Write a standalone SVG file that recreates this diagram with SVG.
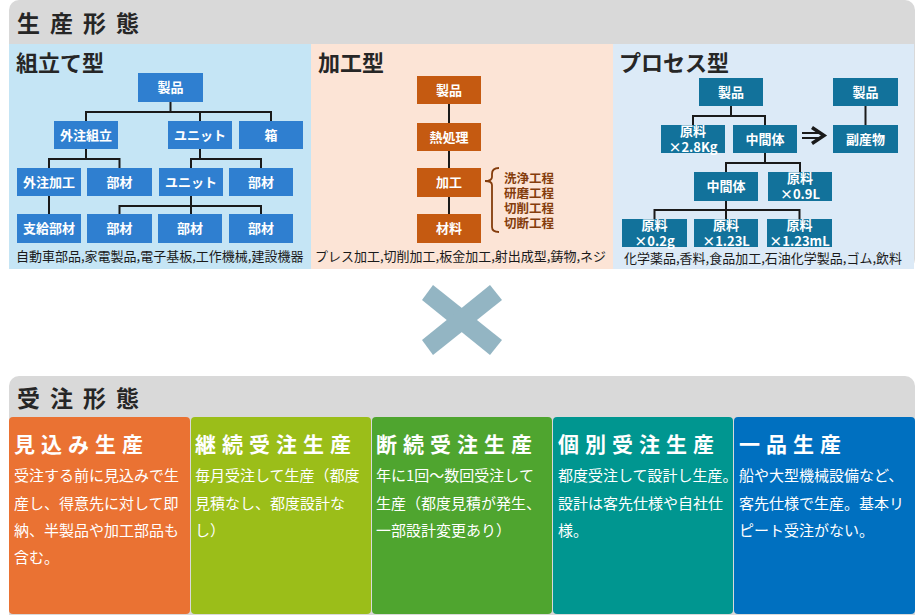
<svg xmlns="http://www.w3.org/2000/svg" width="916" height="615" viewBox="0 0 916 615">
<style>
text{font-family:"Noto Sans CJK JP","Noto Sans",sans-serif}
.hd{font-size:23px;font-weight:700;fill:#262626;letter-spacing:10px}
.ttl{font-size:22px;font-weight:700;fill:#262626}
.ft{font-size:13px;fill:#1a1a1a}
.lb{font-size:13px;font-weight:700;fill:#fff;text-anchor:middle}
.bA{fill:#2F7FD0}
.bK{fill:#C55A11}
.bP{fill:#12729B}
.cn{fill:none;stroke:#1a1a1a;stroke-width:2}
.br{font-size:12.5px;font-weight:700;fill:#843C0C}
.ct{font-size:21px;font-weight:700;fill:#fff;letter-spacing:6px}
.cb{font-size:15px;fill:#fff}
</style>
<rect x="9" y="0" width="906" height="269" rx="10" fill="#D9D9D9"/>
<text class="hd" x="17" y="32">生産形態</text>
<rect x="9" y="44" width="302" height="225" fill="#C5E5F5"/>
<rect x="311" y="44" width="302" height="225" fill="#FCE4D6"/>
<rect x="613" y="44" width="301" height="225" fill="#DCEAF7"/>
<text class="ttl" x="16" y="71">組立て型</text>
<text class="ttl" x="318" y="71">加工型</text>
<text class="ttl" x="619" y="71">プロセス型</text>

<g id="connectors">
<path class="cn" d="M170.5 102V112M86 121V112H271V121M200 112V121"/>
<path class="cn" d="M86 149V159M49 168V159H119.5V168"/>
<path class="cn" d="M200 149V159M191 168V159H261V168"/>
<path class="cn" d="M49 196V214"/>
<path class="cn" d="M191 196V214M119.5 214V206H261V214"/>
<path class="cn" d="M449 104V214"/>
<path class="cn" d="M731 106V116M693 125V116H765V125"/>
<path class="cn" d="M865.5 106V125"/>
<path class="cn" d="M765 153V163M726 172V163H800V172"/>
<path class="cn" d="M726 201V219M654.5 219V210H799.5V219"/>
<path d="M802 133H819M802 138H819" fill="none" stroke="#1a1a1a" stroke-width="2"/>
<path d="M812 127.5L824 135.5L812 143.5" fill="none" stroke="#1a1a1a" stroke-width="3.5"/>
<path d="M499 168C494 168 492 170 492 174V177Q492 181 485 181Q492 181 492 185V227C492 230 494 232 499 232" fill="none" stroke="#843C0C" stroke-width="1.8"/>
</g>

<g id="a-seihin"><rect class="bA" x="138" y="73" width="65" height="29"/><text class="lb" x="170.5" y="92">製品</text></g>
<g id="a-gaichu-kumitate"><rect class="bA" x="54" y="121" width="64" height="28"/><text class="lb" x="86" y="139.5">外注組立</text></g>
<g id="a-unit1"><rect class="bA" x="168" y="121" width="64" height="28"/><text class="lb" x="200" y="139.5">ユニット</text></g>
<g id="a-hako"><rect class="bA" x="239" y="121" width="64" height="28"/><text class="lb" x="271" y="139.5">箱</text></g>
<g id="a-gaichu-kako"><rect class="bA" x="17" y="168" width="64" height="28"/><text class="lb" x="49" y="186.5">外注加工</text></g>
<g id="a-buzai1"><rect class="bA" x="87" y="168" width="65" height="28"/><text class="lb" x="119.5" y="186.5">部材</text></g>
<g id="a-unit2"><rect class="bA" x="159" y="168" width="64" height="28"/><text class="lb" x="191" y="186.5">ユニット</text></g>
<g id="a-buzai2"><rect class="bA" x="229" y="168" width="64" height="28"/><text class="lb" x="261" y="186.5">部材</text></g>
<g id="a-shikyu"><rect class="bA" x="17" y="214" width="64" height="29"/><text class="lb" x="49" y="233">支給部材</text></g>
<g id="a-buzai3"><rect class="bA" x="87" y="214" width="65" height="29"/><text class="lb" x="119.5" y="233">部材</text></g>
<g id="a-buzai4"><rect class="bA" x="158" y="214" width="64" height="29"/><text class="lb" x="190" y="233">部材</text></g>
<g id="a-buzai5"><rect class="bA" x="229" y="214" width="64" height="29"/><text class="lb" x="261" y="233">部材</text></g>
<text class="ft" x="16" y="261">自動車部品,家電製品,電子基板,工作機械,建設機器</text>

<g id="k-seihin"><rect class="bK" x="417" y="76" width="64" height="28"/><text class="lb" x="449" y="94.5">製品</text></g>
<g id="k-netsu"><rect class="bK" x="417" y="123" width="64" height="28"/><text class="lb" x="449" y="141.5">熱処理</text></g>
<g id="k-kako"><rect class="bK" x="417" y="168" width="64" height="29"/><text class="lb" x="449" y="187">加工</text></g>
<g id="k-zairyo"><rect class="bK" x="417" y="214" width="64" height="29"/><text class="lb" x="449" y="233">材料</text></g>
<g id="k-steps">
<text class="br" x="504" y="182.5">洗浄工程</text>
<text class="br" x="504" y="198">研磨工程</text>
<text class="br" x="504" y="213">切削工程</text>
<text class="br" x="504" y="227.5">切断工程</text>
</g>
<text class="ft" x="315" y="261">プレス加工,切削加工,板金加工,射出成型,鋳物,ネジ</text>

<g id="p-seihin1"><rect class="bP" x="699" y="78" width="64" height="28"/><text class="lb" x="731" y="96.5">製品</text></g>
<g id="p-seihin2"><rect class="bP" x="833" y="78" width="65" height="28"/><text class="lb" x="865.5" y="96.5">製品</text></g>
<g id="p-genryo1"><rect class="bP" x="661" y="125" width="64" height="28"/><text class="lb" x="693" y="136">原料</text><text class="lb" x="693" y="152">×2.8Kg</text></g>
<g id="p-chukan1"><rect class="bP" x="733" y="125" width="64" height="28"/><text class="lb" x="765" y="143.5">中間体</text></g>
<g id="p-fuku"><rect class="bP" x="833" y="125" width="65" height="28"/><text class="lb" x="865.5" y="143.5">副産物</text></g>
<g id="p-chukan2"><rect class="bP" x="694" y="172" width="64" height="29"/><text class="lb" x="726" y="191">中間体</text></g>
<g id="p-genryo2"><rect class="bP" x="768" y="172" width="64" height="29"/><text class="lb" x="800" y="183">原料</text><text class="lb" x="800" y="199">×0.9L</text></g>
<g id="p-genryo3"><rect class="bP" x="622" y="219" width="65" height="28"/><text class="lb" x="654.5" y="230">原料</text><text class="lb" x="654.5" y="246">×0.2g</text></g>
<g id="p-genryo4"><rect class="bP" x="694" y="219" width="64" height="28"/><text class="lb" x="726" y="230">原料</text><text class="lb" x="726" y="246">×1.23L</text></g>
<g id="p-genryo5"><rect class="bP" x="767" y="219" width="65" height="28"/><text class="lb" x="799.5" y="230">原料</text><text class="lb" x="799.5" y="246">×1.23mL</text></g>
<text class="ft" x="624" y="263">化学薬品,香料,食品加工,石油化学製品,ゴム,飲料</text>

<g id="times">
<polygon points="433,285 502,340 490,355 422,300" fill="#93B5C3"/>
<polygon points="490,285 502,300 433,355 422,340" fill="#93B5C3"/>
</g>

<rect x="9" y="376" width="906" height="250" rx="10" fill="#D9D9D9"/>
<text class="hd" x="17" y="407">受注形態</text>

<g id="c-mikomi"><rect x="9" y="417" width="181" height="197" rx="4" fill="#EA7233"/>
<text class="ct" x="14" y="452">見込み生産</text>
<text class="cb" x="14" y="481">受注する前に見込みで生</text>
<text class="cb" x="14" y="508.5">産し、得意先に対して即</text>
<text class="cb" x="14" y="536">納、半製品や加工部品も</text>
<text class="cb" x="14" y="563">含む。</text></g>
<g id="c-keizoku"><rect x="191" y="417" width="180" height="197" rx="4" fill="#9BBE19"/>
<text class="ct" x="195" y="452">継続受注生産</text>
<text class="cb" x="195" y="481">毎月受注して生産（都度</text>
<text class="cb" x="195" y="508.5">見積なし、都度設計な</text>
<text class="cb" x="195" y="536">し）</text></g>
<g id="c-danzoku"><rect x="372" y="417" width="180" height="197" rx="4" fill="#4FA52F"/>
<text class="ct" x="376" y="452">断続受注生産</text>
<text class="cb" x="376" y="481">年に1回～数回受注して</text>
<text class="cb" x="376" y="508.5">生産（都度見積が発生、</text>
<text class="cb" x="376" y="536">一部設計変更あり）</text></g>
<g id="c-kobetsu"><rect x="553" y="417" width="180" height="197" rx="4" fill="#009690"/>
<text class="ct" x="558" y="452">個別受注生産</text>
<text class="cb" x="558" y="481">都度受注して設計し生産。</text>
<text class="cb" x="558" y="508.5">設計は客先仕様や自社仕</text>
<text class="cb" x="558" y="536">様。</text></g>
<g id="c-ippin"><rect x="734" y="417" width="181" height="197" rx="4" fill="#0070C0"/>
<text class="ct" x="739" y="452">一品生産</text>
<text class="cb" x="739" y="481">船や大型機械設備など、</text>
<text class="cb" x="739" y="508.5">客先仕様で生産。基本リ</text>
<text class="cb" x="739" y="536">ピート受注がない。</text></g>
</svg>
